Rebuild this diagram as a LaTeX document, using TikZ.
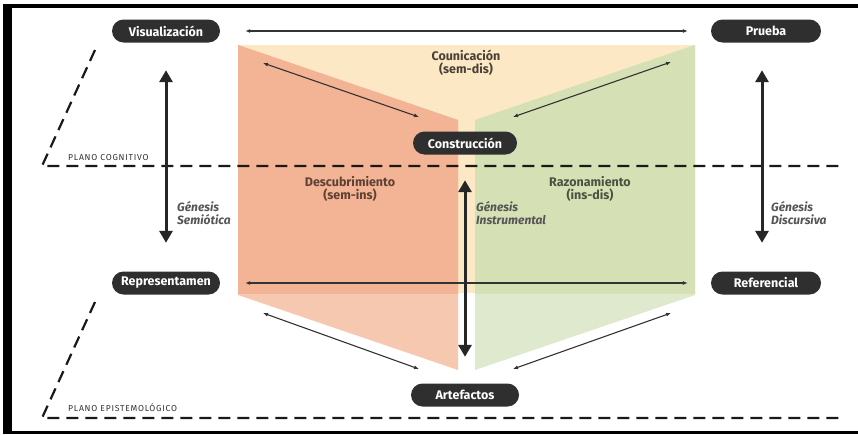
\documentclass[tikz,border=0pt]{standalone}
\usepackage{fontspec}
\setmainfont{Fira Sans}
\usetikzlibrary{arrows.meta}

\definecolor{pillfill}{HTML}{2F2F2F}
\definecolor{linegray}{HTML}{333333}
\definecolor{sandfill}{HTML}{FCE8C4}
\definecolor{peachtop}{HTML}{F3B395}
\definecolor{peachlow}{HTML}{F6C8AF}
\definecolor{sagetop}{HTML}{D5E0B4}
\definecolor{sagelow}{HTML}{DEE9CD}
\definecolor{gentext}{HTML}{555555}
\definecolor{peachtext}{HTML}{5E4132}
\definecolor{sagetext}{HTML}{4A5240}
\definecolor{sandtext}{HTML}{4A4036}

\begin{document}
\begin{tikzpicture}[x=1pt,y=-1pt,
  pill/.style={fill=pillfill, rounded corners=11.5pt, minimum width=108pt,
    minimum height=23pt, inner sep=0pt, text=white,
    font=\bfseries\fontsize{12.5}{14}\selectfont},
  duo/.style={line width=1.1pt, draw=linegray,
    {Latex[length=5pt,width=4pt]}-{Latex[length=5pt,width=4pt]}},
  bigduo/.style={line width=3pt, draw=black!85,
    {Triangle[length=12pt,width=13pt]}-{Triangle[length=12pt,width=13pt]}},
  plane/.style={dash pattern=on 12pt off 7pt, line width=2.2pt, draw=black!90},
  planelabel/.style={inner sep=0pt, text=black!80,
    font=\fontsize{8.6}{9}\selectfont\addfontfeature{LetterSpace=9}},
  zone/.style={inner sep=0pt, align=center,
    font=\bfseries\fontsize{12.5}{13}\selectfont},
  genesis/.style={inner sep=0pt, align=left, text=gentext,
    font=\bfseries\itshape\fontsize{12}{12.5}\selectfont}
]
\useasboundingbox (0,0) rectangle (858,434);

% frame
\fill[white] (0,0) rectangle (858,434);
\fill[black] (4,4) rectangle (858,7.5);
\fill[black] (3,4) rectangle (12,434);
\fill[black] (3,430.5) rectangle (858,434);

% central panels
\fill[sandfill] (238,45) rectangle (695,293);
\fill[peachlow] (238,45) -- (458,120) -- (458,370) -- (238,295) -- cycle;
\fill[sagelow] (695,45) -- (475,120) -- (475,370) -- (695,295) -- cycle;
\begin{scope}
  \clip (238,45) rectangle (695,293);
  \fill[peachtop] (238,45) -- (458,120) -- (458,370) -- (238,295) -- cycle;
  \fill[sagetop] (695,45) -- (475,120) -- (475,370) -- (695,295) -- cycle;
\end{scope}

% planes
\coordinate (pcA) at (95,50);
\coordinate (pcB) at (42,166);
\coordinate (pcC) at (845,166);
\coordinate (peA) at (95,302);
\coordinate (peB) at (42,418);
\coordinate (peC) at (845,418);
\draw[plane] (pcA) -- (pcB) -- (pcC);
\draw[plane] (peA) -- (peB) -- (peC);
\node[planelabel, anchor=base west] (pcog) at (68,160) {PLANO COGNITIVO};
\node[planelabel, anchor=base west] (pepi) at (68,411) {PLANO EPISTEMOLÓGICO};

% nodes
\node[pill] (vis) at (166,31) {Visualización};
\node[pill, minimum width=110pt] (pru) at (766,31) {Prueba};
\node[pill, minimum width=104pt] (con) at (465,143) {Construcción};
\node[pill] (rep) at (166,283) {Representamen};
\node[pill, minimum width=110pt] (ref) at (766,283) {Referencial};
\node[pill] (art) at (465,395) {Artefactos};

% zone labels
\node[zone, text=sandtext] (com) at (466,62.5) {Counicación\\(sem-dis)};
\node[zone, text=peachtext] (des) at (350,189) {Descubrimiento\\(sem-ins)};
\node[zone, text=sagetext] (raz) at (590,189) {Razonamiento\\(ins-dis)};

% genesis labels
\node[genesis, anchor=west] (gs) at (177,213) {Génesis\\Semiótica};
\node[genesis, anchor=west] (gi) at (476,213) {Génesis\\Instrumental};
\node[genesis, anchor=west] (gd) at (771,213) {Génesis\\Discursiva};

% horizontal links
\draw[duo, shorten <=25pt, shorten >=23pt] (vis.east) -- (pru.west);
\draw[duo, shorten <=25pt, shorten >=23pt] (rep.east) -- (ref.west);

% diagonal links
\coordinate (dA1) at (263,63);
\coordinate (dA2) at (419,117);
\coordinate (dB1) at (513,117);
\coordinate (dB2) at (671,62);
\coordinate (dC1) at (263,313);
\coordinate (dC2) at (419,369);
\coordinate (dD1) at (513,369);
\coordinate (dD2) at (671,313);
\draw[duo] (dA1) -- (dA2);
\draw[duo] (dB1) -- (dB2);
\draw[duo] (dC1) -- (dC2);
\draw[duo] (dD1) -- (dD2);

% genesis arrows
\draw[bigduo, shorten <=27.5pt, shorten >=28.5pt] (vis.south) -- (rep.north);
\draw[bigduo, shorten <=27.5pt, shorten >=28.5pt]
  ([xshift=-4pt]pru.south) -- ([xshift=-4pt]ref.north);
\draw[bigduo, shorten <=25.5pt, shorten >=26.5pt] (con.south) -- (art.north);
\end{tikzpicture}
\end{document}
